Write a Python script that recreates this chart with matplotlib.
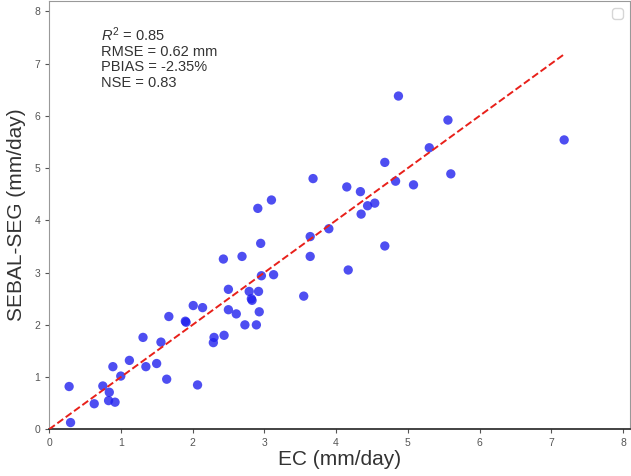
import matplotlib
matplotlib.use("Agg")
import matplotlib.pyplot as plt
import numpy as np

plt.rcParams['font.family'] = ['Liberation Sans', 'DejaVu Sans']
plt.rcParams['mathtext.fontset'] = 'custom'
plt.rcParams['mathtext.rm'] = 'Liberation Sans'
plt.rcParams['mathtext.it'] = 'Liberation Sans:italic'

# EC observed vs SEBAL-SEG estimated ET (mm/day)
ec = [0.28, 0.30, 0.63, 0.75, 0.84, 0.83, 0.92, 0.89, 1.00, 1.12,
      1.35, 1.31, 1.50, 1.56, 1.64, 1.67, 1.90, 1.91, 2.01, 2.14,
      2.07, 2.29, 2.30, 2.44, 2.43, 2.50, 2.50, 2.61, 2.69, 2.73,
      2.79, 2.82, 2.83, 2.92, 2.93, 2.89, 2.95, 2.96, 3.13, 3.55,
      3.64, 3.64, 3.90, 4.17, 4.68, 3.68, 2.91, 3.10, 4.87, 5.56,
      5.30, 7.18, 4.68, 4.83, 5.08, 5.60, 4.15, 4.34, 4.44, 4.54,
      4.35]
seg = [0.82, 0.13, 0.49, 0.83, 0.71, 0.55, 0.52, 1.20, 1.02, 1.32,
       1.20, 1.76, 1.26, 1.67, 0.96, 2.16, 2.07, 2.05, 2.37, 2.33,
       0.85, 1.66, 1.76, 1.80, 3.26, 2.68, 2.29, 2.21, 3.31, 2.00,
       2.64, 2.50, 2.47, 2.64, 2.25, 2.00, 3.56, 2.94, 2.96, 2.55,
       3.31, 3.69, 3.84, 3.05, 3.51, 4.80, 4.23, 4.39, 6.38, 5.92,
       5.39, 5.54, 5.11, 4.75, 4.68, 4.89, 4.64, 4.55, 4.28, 4.33,
       4.12]

stats = ["$R^2$ = 0.85", "RMSE = 0.62 mm", "PBIAS = -2.35%", "NSE = 0.83"]

fig = plt.figure(figsize=(6.31, 4.76), dpi=100)
ax = fig.add_axes([0.0777, 0.098, 0.921, 0.9])

ax.scatter(ec, seg, s=45, color='#2222ee', alpha=0.8, edgecolors='none', zorder=3)

# 1:1 line
xmax = max(ec)
ax.plot([0, xmax], [0, xmax], '--', color='#e8201a', lw=1.4, zorder=4)

ax.text(0.72, 7.74, "\n".join(stats), fontsize=10.5, va='top', ha='left',
        linespacing=1.13, color='#333333')

ax.set_xlim(0, 8.1)
ax.set_ylim(0, 8.2)
ax.set_xticks(range(0, 9))
ax.set_yticks(range(0, 9))
ax.tick_params(labelsize=7.5, labelcolor='#555555', color='#555555', length=3, width=0.8)
ax.set_xlabel("EC (mm/day)", fontsize=15, color='#333333', labelpad=1)
ax.set_ylabel("SEBAL-SEG (mm/day)", fontsize=15, color='#333333', labelpad=6)

for side in ['left', 'top', 'right']:
    ax.spines[side].set_color('#999999')
ax.spines['bottom'].set_color('#222222')
ax.spines['bottom'].set_linewidth(1.2)

leg = ax.legend(handles=[], loc='upper right', frameon=True)

fig.savefig("out.png", dpi=100)
